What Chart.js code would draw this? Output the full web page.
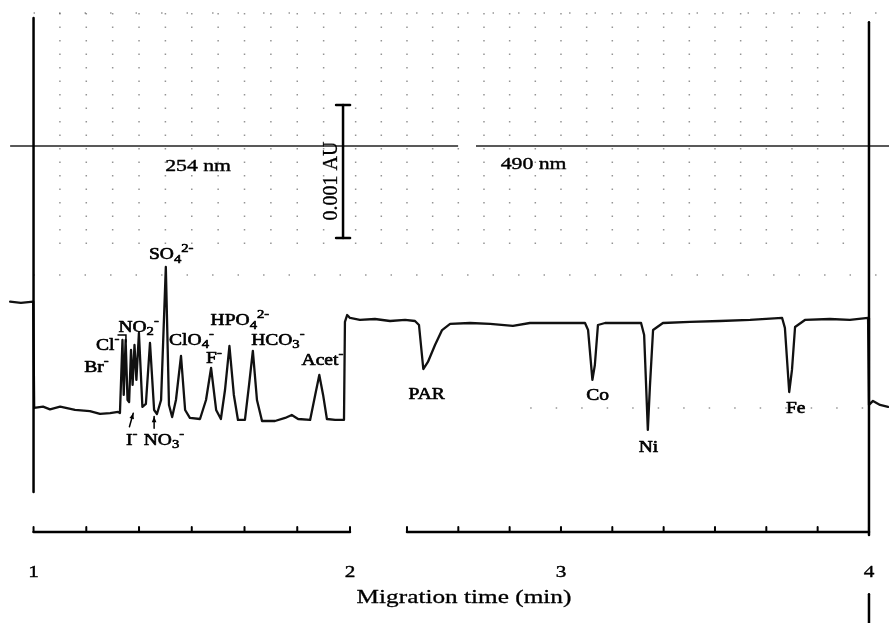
<!DOCTYPE html>
<html>
<head>
<meta charset="utf-8">
<script src="https://cdn.jsdelivr.net/npm/chart.js@4.4.1/dist/chart.umd.min.js"></script>
<style>
  html, body { margin: 0; padding: 0; background: #fff; }
  #wrap { width: 889px; height: 623px; position: relative; }
</style>
</head>
<body>
<div id="wrap"><canvas id="ce"></canvas></div>
<script>
// 254 nm section: anions, time in min, signal in mAU (0.001 AU) above baseline
const anionTime = [0.926, 0.960, 0.999, 1.002, 1.030, 1.052, 1.084, 1.131, 1.178, 1.210,
  1.242, 1.267, 1.273, 1.281, 1.285, 1.291, 1.297, 1.302, 1.308, 1.313,
  1.319, 1.325, 1.333, 1.344, 1.355, 1.368, 1.381, 1.390, 1.403, 1.418,
  1.428, 1.438, 1.450, 1.466, 1.479, 1.494, 1.526, 1.545, 1.561, 1.577,
  1.592, 1.605, 1.619, 1.633, 1.646, 1.668, 1.681, 1.693, 1.706, 1.722,
  1.763, 1.795, 1.816, 1.836, 1.874, 1.890, 1.903, 1.915, 1.927, 1.953,
  1.981, 1.984, 1.991, 2.000];
const anionSignal = [0.80, 0.79, 0.80, 0.00, 0.01, -0.01, 0.01, -0.015, -0.023, -0.045,
  -0.038, -0.03, -0.038, 0.511, 0.098, 0.511, 0.06, 0.045, 0.436, 0.173,
  0.474, 0.211, 0.564, 0.008, 0.03, 0.489, -0.015, -0.045, 0.06, 1.06,
  0.023, -0.068, 0.06, 0.391, -0.015, -0.075, -0.083, 0.06, 0.301, -0.015,
  -0.083, 0.135, 0.466, 0.098, -0.09, -0.09, 0.173, 0.429, 0.06, -0.098,
  -0.098, -0.075, -0.053, -0.083, -0.09, 0.098, 0.248, 0.098, -0.083, -0.09,
  -0.09, 0.647, 0.699, 0.677];

// 490 nm section: metal-PAR complexes
const metalTime = [2.315, 2.347, 2.396, 2.445, 2.494, 2.526, 2.539, 2.553, 2.568, 2.591,
  2.614, 2.640, 2.705, 2.770, 2.844, 2.899, 2.997, 3.078, 3.088, 3.102,
  3.110, 3.120, 3.143, 3.208, 3.260, 3.270, 3.282, 3.289, 3.299, 3.331,
  3.419, 3.516, 3.614, 3.718, 3.727, 3.741, 3.750, 3.760, 3.792, 3.873,
  3.938, 3.997, 4.000, 4.013, 4.036, 4.062];
const metalSignal = [0.677, 0.662, 0.669, 0.654, 0.662, 0.654, 0.624, 0.293, 0.346, 0.474,
  0.586, 0.632, 0.639, 0.632, 0.617, 0.639, 0.639, 0.639, 0.586, 0.211,
  0.323, 0.624, 0.639, 0.639, 0.639, 0.549, -0.165, 0.173, 0.586, 0.639,
  0.647, 0.654, 0.662, 0.677, 0.602, 0.120, 0.286, 0.609, 0.662, 0.669,
  0.662, 0.677, 0.023, 0.053, 0.023, 0.008];

const tickValues = [1, 2, 3, 4];
const tickLabels = ["1", "2", "3", "4"];
const axisTitle = "Migration time (min)";

// peak labels: markup (_x subscript, ^... superscript), time, signal of the label baseline
const peakLabels = [
  { text: "Br^-",    t: 1.199, v: 0.273, ax: "xl" },
  { text: "Cl^-",    t: 1.234, v: 0.436, ax: "xl" },
  { text: "NO_2^-",  t: 1.332, v: 0.574, ax: "xl" },
  { text: "SO_4^2-", t: 1.435, v: 1.120, ax: "xl" },
  { text: "ClO_4^-", t: 1.499, v: 0.474, ax: "xl" },
  { text: "F^-",     t: 1.570, v: 0.336, ax: "xl" },
  { text: "HPO_4^2-",t: 1.652, v: 0.624, ax: "xl" },
  { text: "HCO_3^-", t: 1.772, v: 0.474, ax: "xl" },
  { text: "Acet^-",  t: 1.913, v: 0.323, ax: "xl" },
  { text: "I^-",     t: 1.310, v: -0.278, ax: "xl" },
  { text: "NO_3^-",  t: 1.412, v: -0.278, ax: "xl" },
  { text: "PAR",     t: 2.564, v: 0.065, ax: "xr" },
  { text: "Co",      t: 3.119, v: 0.060, ax: "xr" },
  { text: "Ni",      t: 3.284, v: -0.329, ax: "xr" },
  { text: "Fe",      t: 3.762, v: -0.035, ax: "xr" }
];

const SERIF = '"Liberation Serif", "Times New Roman", serif';

function drawRich(ctx, markup, cx, by, size, sx, heavy) {
  const parts = [];
  let i = 0;
  while (i < markup.length) {
    const c = markup[i];
    if (c === "_") { parts.push({ t: markup[i + 1], k: "sub" }); i += 2; }
    else if (c === "^") { parts.push({ t: markup.slice(i + 1), k: "sup" }); break; }
    else {
      let j = i;
      while (j < markup.length && markup[j] !== "_" && markup[j] !== "^") j++;
      parts.push({ t: markup.slice(i, j), k: "n" });
      i = j;
    }
  }
  const small = Math.round(size * 0.72);
  let w = 0;
  parts.forEach(p => {
    ctx.font = (p.k === "n" ? size : small) + "px " + SERIF;
    p.w = ctx.measureText(p.t).width;
    w += p.w;
  });
  ctx.save();
  ctx.translate(cx, by);
  ctx.scale(sx, 1);
  ctx.textAlign = "left";
  ctx.textBaseline = "alphabetic";
  ctx.lineWidth = heavy || 0.4;
  ctx.lineJoin = "round";
  let x = -w / 2;
  parts.forEach(p => {
    ctx.font = (p.k === "n" ? size : small) + "px " + SERIF;
    const dy = p.k === "sub" ? size * 0.22 : p.k === "sup" ? -size * 0.42 : 0;
    ctx.fillText(p.t, x, dy);
    ctx.strokeText(p.t, x, dy);
    x += p.w;
  });
  ctx.restore();
}

function seg(ctx, x1, y1, x2, y2) {
  ctx.beginPath();
  ctx.moveTo(x1, y1);
  ctx.lineTo(x2, y2);
  ctx.stroke();
}

function arrowUp(ctx, x1, y1, x2, y2) {
  seg(ctx, x1, y1, x2, y2);
  const a = Math.atan2(y2 - y1, x2 - x1);
  ctx.beginPath();
  ctx.moveTo(x2, y2);
  ctx.lineTo(x2 - 6 * Math.cos(a - 0.4), y2 - 6 * Math.sin(a - 0.4));
  ctx.lineTo(x2 - 6 * Math.cos(a + 0.4), y2 - 6 * Math.sin(a + 0.4));
  ctx.closePath();
  ctx.fill();
}

const recorderPaper = {
  id: "recorderPaper",
  beforeDatasetsDraw(chart) {
    const { ctx } = chart;
    const xl = chart.scales.xl, xr = chart.scales.xr, y = chart.scales.y;
    const X = t => (t <= 2.0 ? xl : xr).getPixelForValue(t);
    ctx.save();
    // dotted chart paper
    ctx.strokeStyle = "rgba(0,0,0,0.42)";
    ctx.lineWidth = 1.5;
    ctx.setLineDash([1.5, 12]);
    const cols = [];
    for (let k = 1; k <= 11; k++) cols.push(1 + k / 12);
    for (let k = 4; k <= 23; k++) cols.push(2 + k / 12);
    cols.forEach(t => seg(ctx, X(t), y.getPixelForValue(2.97), X(t), y.getPixelForValue(1.2)));
    ctx.setLineDash([1.5, 24]);
    seg(ctx, X(1), y.getPixelForValue(2.97), X(4.06), y.getPixelForValue(2.97));
    seg(ctx, X(1), y.getPixelForValue(1.0), X(4.06), y.getPixelForValue(1.0));
    seg(ctx, X(2.9), y.getPixelForValue(0.0), X(4.0), y.getPixelForValue(0.0));
    ctx.setLineDash([]);
    // reference line
    ctx.strokeStyle = "#222";
    ctx.lineWidth = 1.5;
    seg(ctx, X(0.926), y.getPixelForValue(1.97), X(2.0), y.getPixelForValue(1.97));
    seg(ctx, X(2.315), y.getPixelForValue(1.97), X(2.666), y.getPixelForValue(1.97));
    seg(ctx, X(2.724), y.getPixelForValue(1.97), X(4.065), y.getPixelForValue(1.97));
    ctx.restore();
  },
  afterDatasetsDraw(chart) {
    const { ctx } = chart;
    const xl = chart.scales.xl, xr = chart.scales.xr, y = chart.scales.y;
    const X = t => (t <= 2.0 ? xl : xr).getPixelForValue(t);
    const Y = v => y.getPixelForValue(v);
    ctx.save();
    ctx.strokeStyle = "#000";
    ctx.fillStyle = "#000";
    ctx.lineCap = "round";
    // start / end pen marks
    ctx.lineWidth = 2.5;
    seg(ctx, X(1), Y(2.932), X(1), Y(-0.632));
    seg(ctx, X(4), Y(2.90), X(4), Y(-0.955));
    seg(ctx, X(4), Y(-1.40), X(4), Y(-1.62));
    // time axis (broken)
    const ay = Y(-0.932);
    seg(ctx, X(1), ay, X(2), ay);
    seg(ctx, X(2.5), ay, X(4), ay);
    ctx.lineWidth = 2;
    for (let k = 0; k <= 6; k++) seg(ctx, X(1 + k / 6), ay, X(1 + k / 6), ay - 5);
    for (let k = 0; k <= 9; k++) seg(ctx, X(2.5 + k / 6), ay, X(2.5 + k / 6), ay - 5);
    tickValues.forEach((t, i) => drawRich(ctx, tickLabels[i], X(t), Y(-1.27), 17, 1.25));
    drawRich(ctx, axisTitle, 464, 603, 19, 1.33, 0.3);
    // absorbance scale bar
    ctx.lineWidth = 2.5;
    const bx = X(1.978);
    seg(ctx, bx, Y(1.278), bx, Y(2.278));
    seg(ctx, bx - 7, Y(1.278), bx + 7, Y(1.278));
    seg(ctx, bx - 7, Y(2.278), bx + 7, Y(2.278));
    ctx.save();
    ctx.translate(X(1.959), Y(1.707));
    ctx.rotate(-Math.PI / 2);
    ctx.font = "20px " + SERIF;
    ctx.textAlign = "center";
    ctx.textBaseline = "alphabetic";
    ctx.lineWidth = 0.3;
    ctx.fillText("0.001 AU", 0, 0);
    ctx.strokeText("0.001 AU", 0, 0);
    ctx.restore();
    drawRich(ctx, "254 nm", X(1.520), Y(1.78), 17, 1.28);
    drawRich(ctx, "490 nm", X(2.911), Y(1.80), 17, 1.28);
    // peak labels
    peakLabels.forEach(p => {
      const sc = chart.scales[p.ax];
      drawRich(ctx, p.text, sc.getPixelForValue(p.t), Y(p.v), 16, 1.22, 0.6);
    });
    // pointers
    ctx.lineWidth = 1.5;
    ctx.beginPath();
    ctx.moveTo(X(1.267), Y(0.549));
    ctx.lineTo(X(1.292), Y(0.549));
    ctx.lineTo(X(1.292), Y(0.496));
    ctx.stroke();
    arrowUp(ctx, X(1.303), Y(-0.141), X(1.315), Y(-0.040));
    arrowUp(ctx, X(1.381), Y(-0.153), X(1.381), Y(-0.065));
    ctx.restore();
  }
};

const traceStyle = {
  borderColor: "#111",
  borderWidth: 2.3,
  pointRadius: 0,
  tension: 0,
  fill: false,
  borderJoinStyle: "round",
  borderCapStyle: "round",
  yAxisID: "y"
};

new Chart(document.getElementById("ce"), {
  type: "line",
  data: {
    datasets: [
      Object.assign({ label: "254 nm", xAxisID: "xl",
        data: anionTime.map((t, i) => ({ x: t, y: anionSignal[i] })) }, traceStyle),
      Object.assign({ label: "490 nm", xAxisID: "xr",
        data: metalTime.map((t, i) => ({ x: t, y: metalSignal[i] })) }, traceStyle)
    ]
  },
  options: {
    responsive: true,
    maintainAspectRatio: false,
    animation: false,
    layout: { padding: 0 },
    plugins: { legend: { display: false }, tooltip: { enabled: false } },
    scales: {
      xl: { type: "linear", position: "bottom", stack: "time", stackWeight: 350,
            min: 0.894, max: 2.0, display: false },
      xr: { type: "linear", position: "bottom", stack: "time", stackWeight: 539,
            min: 2.315, max: 4.065, display: false },
      y: { type: "linear", min: -1.617, max: 3.068, display: false }
    }
  },
  plugins: [recorderPaper]
});
</script>
</body>
</html>
